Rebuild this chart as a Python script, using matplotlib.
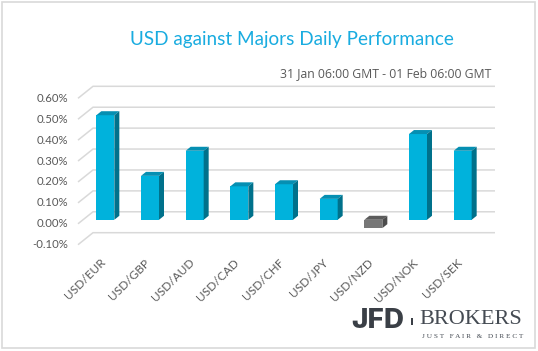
import matplotlib
matplotlib.use("Agg")
import matplotlib.pyplot as plt
from matplotlib.patches import Polygon, Rectangle

# ---- data ----
categories = ["USD/EUR", "USD/GBP", "USD/AUD", "USD/CAD", "USD/CHF",
              "USD/JPY", "USD/NZD", "USD/NOK", "USD/SEK"]
values = [0.50, 0.21, 0.33, 0.16, 0.17, 0.10, -0.04, 0.41, 0.33]   # percent
yticks = [-0.10, 0.00, 0.10, 0.20, 0.30, 0.40, 0.50, 0.60]
ytick_labels = ["-0.10%", "0.00%", "0.10%", "0.20%", "0.30%", "0.40%", "0.50%", "0.60%"]
title = "USD against Majors Daily Performance"
subtitle = "31 Jan 06:00 GMT - 01 Feb 06:00 GMT"

W, H, DPI = 538, 351, 100
fig = plt.figure(figsize=(W / DPI, H / DPI), dpi=DPI)
fig.patch.set_facecolor("white")

# frame
fig.add_artist(Rectangle((2 / W, 3 / H), 533 / W, 346 / H, transform=fig.transFigure,
                         fill=False, edgecolor="#d9d9d9", linewidth=1.2))

# front plane of the 3D chart in pixels
left_px, right_px = 78, 480
top_px, bot_px = 98.3, 244.7
ax = fig.add_axes([left_px / W, (H - bot_px) / H, (right_px - left_px) / W, (bot_px - top_px) / H])
ax.set_xlim(-0.5, len(categories) - 0.5)
ax.set_ylim(yticks[0], yticks[-1])
ax.axis("off")

pxx = (right_px - left_px) / len(categories)        # px per category
pxy = (bot_px - top_px) / (yticks[-1] - yticks[0])  # px per percent

def dx(px):
    return px / pxx

def dy(px):
    return px / pxy

# gridlines: slanted floor-edge + back wall
grid_c = "#d9d9d9"
x0, x1 = ax.get_xlim()
for t in yticks:
    ax.plot([x0, x0 + dx(15), x1 + dx(15)], [t, t + dy(12), t + dy(12)],
            color=grid_c, lw=1.1, clip_on=False, zorder=1, solid_capstyle="butt")

# bars
shift_x, base = dx(5), dy(4)
bw = dx(18)
ddx, ddy = dx(5), dy(4)
pos = [i + shift_x for i in range(len(categories))]
front_cols = ["#00b2dc" if v >= 0 else "#777777" for v in values]
top_cols = ["#058fb2" if v >= 0 else "#5c5c5c" for v in values]
side_cols = ["#00718b" if v >= 0 else "#4c4c4c" for v in values]

ax.bar(pos, values, width=bw, bottom=base, color=front_cols, zorder=3, clip_on=False,
       linewidth=0)
for p, v, tc, sc in zip(pos, values, top_cols, side_cols):
    xl, xr = p - bw / 2, p + bw / 2
    top = base + max(v, 0)
    bottom = base + min(v, 0)
    ax.add_patch(Polygon([(xl, top), (xr, top), (xr + ddx, top + ddy), (xl + ddx, top + ddy)],
                         closed=True, facecolor=tc, edgecolor="none", zorder=3, clip_on=False))
    ax.add_patch(Polygon([(xr, bottom), (xr, top), (xr + ddx, top + ddy), (xr + ddx, bottom + ddy)],
                         closed=True, facecolor=sc, edgecolor="none", zorder=3, clip_on=False))

# y tick labels
txt_c = "#595959"
for t, lab in zip(yticks, ytick_labels):
    ax.text(x0 - dx(10), t, lab, ha="right", va="center", fontsize=8.2, color=txt_c,
            family="Lato", clip_on=False)

# category labels
for i, lab in enumerate(categories):
    ax.text(i + dx(3), yticks[0] - dy(16), lab, rotation=45, rotation_mode="anchor",
            ha="right", va="center", fontsize=8.6, color=txt_c, family="Lato", clip_on=False)

# titles
fig.text(292 / W, 1 - 40 / H, title, ha="center", va="center", fontsize=13.6,
         color="#19ace0", family="Lato")
fig.text(491 / W, 1 - 74 / H, subtitle, ha="right", va="center", fontsize=8.8,
         color=txt_c, family="Open Sans")

# logo
fig.text(351 / W, 1 - 321 / H, "JFD", ha="left", va="center", fontsize=20,
         fontweight="heavy", color="#3a3f46", family="Inter")
fig.add_artist(Rectangle((411.5 / W, 1 - 340 / H), 0.8 / W, 28 / H, transform=fig.transFigure,
                         facecolor="#a0a5ab", edgecolor="none"))
fig.add_artist(Rectangle((410.6 / W, 1 - 325 / H), 2.6 / W, 7 / H, transform=fig.transFigure,
                         facecolor="#3a3f46", edgecolor="none"))
fig.text(419 / W, 1 - 320 / H, "BROKERS", ha="left", va="center", fontsize=16,
         color="#454b53", family="Liberation Serif")
fig.text(422 / W, 1 - 336.5 / H, "J U S T   F A I R   &   D I R E C T", ha="left", va="center",
         fontsize=5.2, color="#454b53", family="Liberation Serif")

fig.savefig("out.png", dpi=DPI, facecolor="white")
